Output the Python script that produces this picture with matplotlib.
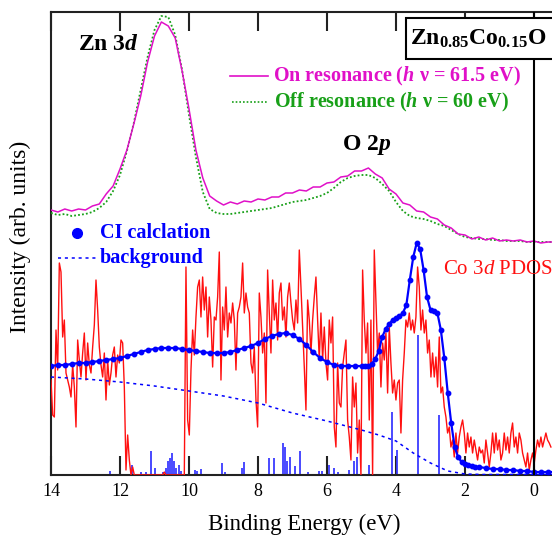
import numpy as np
import matplotlib
matplotlib.use('Agg')
import matplotlib.pyplot as plt
from matplotlib.patches import Rectangle
from matplotlib.lines import Line2D

plt.rcParams['font.family'] = ['Liberation Serif', 'DejaVu Serif']
plt.rcParams['mathtext.fontset'] = 'custom'
plt.rcParams['mathtext.rm'] = 'Liberation Serif:bold'
plt.rcParams['mathtext.it'] = 'Liberation Serif:italic:bold'
plt.rcParams['mathtext.bf'] = 'Liberation Serif:bold'
plt.rcParams['mathtext.sf'] = 'Liberation Serif:italic'

# ---------------- data ----------------
x_ticks = [14, 12, 10, 8, 6, 4, 2, 0]
x_tick_labels = ['14', '12', '10', '8', '6', '4', '2', '0']

# experimental spectra on a 0.2 eV grid (14.0 -> -0.6 eV)
exp_energy = np.round(np.arange(14.0, -0.61, -0.2), 2)
on_resonance = [265, 263, 266, 264, 266, 265, 269, 271, 281, 289,
                306, 325, 351, 379, 413, 439, 453, 449, 437, 404,
                366, 325, 297, 279, 274, 270, 273, 271, 274, 273,
                276, 275, 278, 278, 282, 282, 285, 284, 288, 288,
                292, 293, 298, 299, 304, 304, 307, 301, 297, 286,
                281, 272, 270, 264, 263, 258, 256, 250, 247, 241,
                240, 236, 238, 235, 237, 234, 235, 234, 235, 233,
                234, 232, 233, 233]
off_resonance = [262, 260, 261, 259, 260, 261, 263, 267, 273, 284,
                 300, 324, 352, 385, 418, 445, 459, 458, 440, 405,
                 360, 318, 283, 266, 262, 261, 261, 262, 263, 264,
                 265, 266, 267, 269, 271, 273, 274, 275, 277, 279,
                 282, 287, 293, 297, 299, 300, 300, 297, 291, 284,
                 273, 264, 259, 257, 256, 254, 251, 249, 245, 241,
                 238, 237, 236, 236, 235, 235, 234, 234, 234, 233,
                 233, 233, 233, 233]

# CI calculation
ci_energy = [14.0, 13.8, 13.6, 13.4, 13.2, 13.0, 12.8, 12.6, 12.4, 12.2,
             12.0, 11.8, 11.6, 11.4, 11.2, 11.0, 10.8, 10.6, 10.4, 10.2,
             10.0, 9.8, 9.6, 9.4, 9.2, 9.0, 8.8, 8.6, 8.4, 8.2,
             8.0, 7.8, 7.6, 7.4, 7.2, 7.0, 6.8, 6.6, 6.4, 6.2,
             6.0, 5.8, 5.6, 5.4, 5.2, 5.0, 4.9, 4.8, 4.7, 4.6,
             4.5, 4.4, 4.3, 4.2, 4.1, 4.0, 3.9, 3.8, 3.7, 3.6,
             3.5, 3.4, 3.3, 3.2, 3.1, 3.0, 2.9, 2.8, 2.7, 2.6,
             2.5, 2.4, 2.3, 2.2, 2.1, 2.0, 1.9, 1.8, 1.7, 1.6,
             1.4, 1.2, 1.0, 0.8, 0.6, 0.4, 0.2, 0.0, -0.2, -0.4, -0.6]
ci_values = [109, 110, 110, 111, 112, 112, 113, 114, 115, 116,
             117, 119, 121, 123, 125, 126, 127, 127, 127, 126,
             125, 124, 123, 122, 122, 122, 123, 125, 127, 129,
             132, 136, 139, 141, 142, 140, 136, 130, 123, 117,
             113, 110, 109, 109, 109, 109, 109, 109, 111, 116,
             124, 138, 146, 151, 155, 157, 159, 162, 170, 195,
             218, 232, 226, 205, 178, 165, 164, 162, 145, 117,
             82, 52, 28, 18, 13, 11, 10, 9, 8, 8,
             7, 6, 6, 5, 5, 4, 4, 3, 3, 3, 3]

# background
bg_energy = [14.0, 13.0, 12.0, 11.0, 10.0, 9.0, 8.0, 7.0, 6.0, 5.0,
             4.5, 4.0, 3.5, 3.0, 2.5, 2.0, 1.5, 1.0, 0.0, -0.6]
bg_values = [98, 96, 93, 89, 84, 79, 72, 62, 54, 45,
             40, 34, 22, 12, 4, 1, 0.5, 0.5, 0.5, 0.5]

# CI line spectrum (sticks)
stick_energy = [12.29, 11.65, 11.40, 11.25, 11.10, 11.00, 10.74, 10.68, 10.62, 10.55,
                10.48, 10.43, 10.37, 10.29, 10.23, 9.84, 9.78, 9.65, 9.03, 8.97,
                8.46, 8.41, 7.68, 7.54, 7.27, 7.21, 7.15, 7.06, 6.93, 6.78,
                6.55, 6.24, 6.15, 5.94, 5.80, 5.68, 5.37, 5.22, 5.13, 4.78,
                4.11, 3.98, 3.37, 2.75]
stick_height = [4, 10, 3, 3, 24, 7, 3, 7, 14, 17,
                22, 14, 7, 10, 4, 5, 4, 6, 12, 3,
                7, 13, 17, 17, 32, 28, 14, 18, 9, 24,
                3, 4, 4, 10, 7, 3, 5, 14, 18, 10,
                63, 25, 140, 60]

# Co 3d PDOS (uniform grid, 14.0 -> -0.49 eV)
pdos_values = [
    95, 60, 58, 145, 105, 212, 203, 138, 155, 102, 95, 88, 78, 110, 88, 48, 135, 115, 98, 122,
    142, 95, 132, 110, 102, 128, 150, 195, 165, 128, 110, 98, 122, 75, 115, 90, 102, 120, 128, 98,
    120, 112, 135, 132, 88, 5, 40, 15, 0, 8,
    0, 0, 0, 0, 0, 0, 0, 0, 0, 0, 0, 0, 0, 0, 0, 0, 0, 0, 3, 0,
    0, 0, 0, 0, 0, 0, 0, 0, 0, 0, 0,
    208, 55, 40, 105, 145, 120, 158, 188, 195, 158, 198, 165, 188, 138, 178, 155, 108, 158,
    155, 178, 223, 95, 168, 145, 188, 138, 162, 152, 172, 155, 105, 162, 168, 178, 212, 162, 182, 168,
    162, 112, 102, 128, 75, 48, 182, 158, 122, 142, 72, 205, 162, 122, 195, 155, 172, 135, 182, 192,
    155, 168, 138, 178, 192, 172, 155, 145, 175, 152, 225, 188, 148, 108, 65, 175, 155, 122, 155, 178,
    198, 155, 115, 162, 115, 148, 112, 95, 155, 132, 158, 48, 28, 112, 72, 68, 108, 122, 135, 55,
    38, 15, 98, 68, 92, 22, 55, 0, 205, 155, 122, 152,
    55, 155, 0, 225, 172, 122, 142, 88, 132, 115, 142, 82, 148, 112, 82, 95, 75, 92, 95, 42,
    95, 122, 155, 148, 162, 145, 155, 142, 158, 208, 188, 145, 165, 142, 155, 122, 135, 98, 122, 98,
    118, 88, 138, 82, 88, 68, 58, 42, 48, 28, 35, 18, 42, 22, 38, 48, 55, 42, 22, 42,
    28, 38, 22, 35, 25, 15, 28, 22, 25, 12, 35, 22, 8, 22, 42, 22, 42, 25, 35, 15,
    22, 42, 25, 38, 22, 42, 52, 28, 38, 22, 42, 35, 22, 15, 8, 22, 5, 15, 22, 12,
    25, 35, 28, 38, 28, 35, 42, 35, 32, 28]
pdos_energy = np.linspace(14.0, -0.49, len(pdos_values))

# ---------------- styling ----------------
MAGENTA = '#e010c8'
GREEN = '#18a018'
BLUE = '#0000ff'
STICK = '#3a3aff'
RED = '#ff1010'

W, H = 552, 536
fig = plt.figure(figsize=(W / 100, H / 100), dpi=100)
fig.patch.set_facecolor('white')

def fx(px):
    return px / W

def fy(py):
    return 1 - py / H

ax = fig.add_axes([fx(51), fy(475), (552 - 51) / W, (475 - 12) / H])
ax.set_xlim(14, 14 - 501 / 34.5)
ax.set_ylim(0, 463)

ax.vlines(stick_energy, 0, stick_height, color=STICK, lw=1.3, zorder=2)
ax.plot(pdos_energy, pdos_values, color=RED, lw=1.0, zorder=3)
ax.plot(bg_energy, bg_values, color=BLUE, lw=1.1, ls=(0, (2, 2.5)), zorder=4)
ax.plot(ci_energy, ci_values, color=BLUE, lw=1.6, marker='o', ms=3.2, zorder=5)
ax.plot(exp_energy, off_resonance, color=GREEN, lw=1.3, ls=(0, (1, 1.2)), zorder=4)
ax.plot(exp_energy, on_resonance, color=MAGENTA, lw=1.1, zorder=5)
ax.axvline(0, color='black', lw=1.5, zorder=6)

for side in ['left', 'top', 'bottom']:
    ax.spines[side].set_color('#222222')
    ax.spines[side].set_linewidth(1.5)
ax.spines['right'].set_visible(False)

ax.set_xticks(x_ticks)
ax.set_xticklabels(x_tick_labels)
ax.tick_params(axis='x', direction='in', length=14, width=1.5, top=True,
               labelsize=13, pad=6, color='#222222')
ax.set_yticks([])

# axis labels
fig.text(fx(304), fy(524), 'Binding Energy (eV)', fontsize=16.5, ha='center', va='center')
fig.text(fx(20), fy(237), 'Intensity (arb. units)', fontsize=17, rotation=90,
         ha='center', va='center')

# peak annotations
fig.text(fx(78), fy(45), r'Zn 3$d$', fontsize=17, fontweight='bold', va='center')
fig.text(fx(342), fy(145), r'O 2$p$', fontsize=17, fontweight='bold', va='center')

# legend for the experimental spectra
fig.add_artist(Line2D([fx(230), fx(268)], [fy(76), fy(76)], color=MAGENTA, lw=1.2))
fig.text(fx(273), fy(76), r'On resonance ($h\ \mathrm{\nu}$ = 61.5 eV)', color=MAGENTA,
         fontsize=14.5, fontweight='bold', va='center')
fig.add_artist(Line2D([fx(232), fx(268)], [fy(102), fy(102)], color=GREEN, lw=1.2,
                      ls=(0, (1, 1.2))))
fig.text(fx(274), fy(102), r'Off resonance ($h\ \mathrm{\nu}$ = 60 eV)', color=GREEN,
         fontsize=14.5, fontweight='bold', va='center')

# legend for calculation
fig.add_artist(Line2D([fx(77)], [fy(233)], color=BLUE, marker='o', ms=7, lw=0))
fig.text(fx(100), fy(233), 'CI calclation', color=BLUE, fontsize=14.5,
         fontweight='bold', va='center')
fig.add_artist(Line2D([fx(58), fx(98)], [fy(258), fy(258)], color=BLUE, lw=1.1,
                      ls=(0, (2, 2.5))))
fig.text(fx(100), fy(258), 'background', color=BLUE, fontsize=14.5,
         fontweight='bold', va='center')

fig.text(fx(443), fy(270), r'Co 3$\mathsf{d}$ PDOS', color=RED, fontsize=15, va='center')

# compound box
fig.add_artist(Rectangle((fx(406), fy(59)), (170) / W, (59 - 18) / H,
                         transform=fig.transFigure, facecolor='white',
                         edgecolor='black', lw=1.5, zorder=10))
fig.text(fx(410), fy(39), r'Zn$_{0.85}$Co$_{0.15}$O', fontsize=17, fontweight='bold',
         va='center', zorder=11)

fig.savefig('out.png', dpi=100)
